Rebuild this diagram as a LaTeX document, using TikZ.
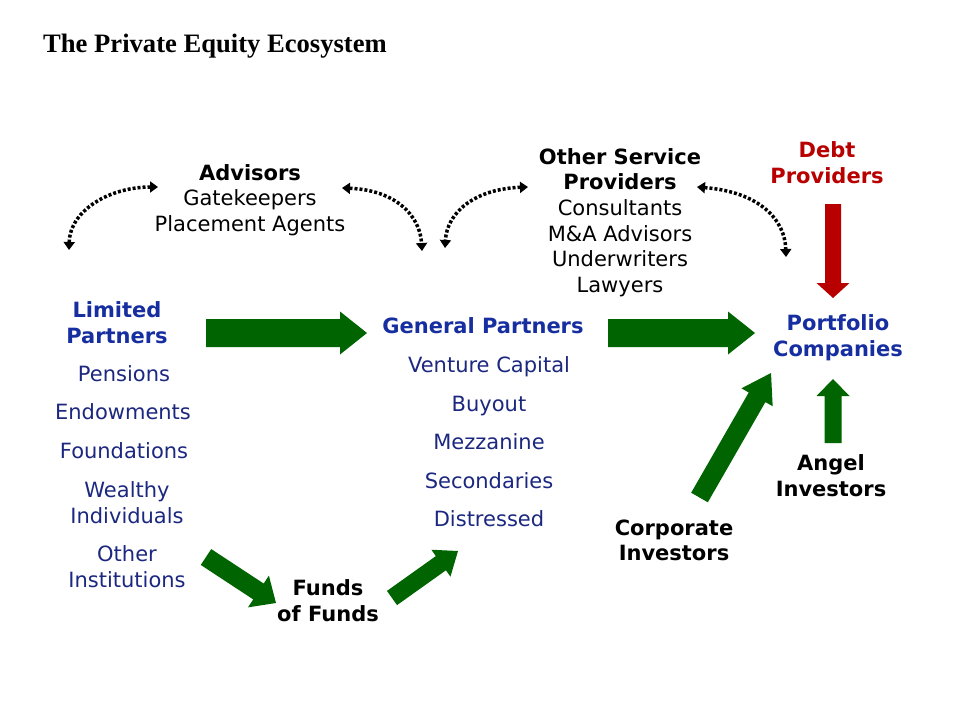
\documentclass[tikz,border=0pt]{standalone}
\usepackage{fontspec}
\setmainfont{DejaVu Sans}
\newfontfamily\titlefont{Liberation Serif}
\usetikzlibrary{calc,arrows.meta}
\definecolor{pegreen}{RGB}{0,100,0}
\definecolor{peblue}{RGB}{22,46,160}
\definecolor{petext}{RGB}{28,40,128}
\definecolor{pered}{RGB}{185,0,0}
\newcommand\blockarrow[6]{%
  \coordinate (bahead) at ($(#2)!#5!(#1)$);
  \fill[#6] ($(#1)!#3!90:(#2)$) -- ($(bahead)!#3!90:(#2)$) -- ($(bahead)!#4!90:(#2)$) -- (#2)
    -- ($(bahead)!#4!-90:(#2)$) -- ($(bahead)!#3!-90:(#2)$) -- ($(#1)!#3!-90:(#2)$) -- cycle;}
\begin{document}
\begin{tikzpicture}[x=1pt,y=-1pt,
  multi/.style={inner sep=0pt, align=center, font=\fontsize{21}{25.7}\selectfont},
  multib/.style={multi, font=\fontsize{21}{25.7}\selectfont\bfseries},
  single/.style={inner sep=0pt, text height=16pt, text depth=1pt, font=\fontsize{21}{25.7}\selectfont},
  singleb/.style={single, font=\fontsize{21}{25.7}\selectfont\bfseries},
  dotarrow/.style={line width=3.5pt, dash pattern=on 3pt off 2pt,
    {Triangle[length=8pt,width=11pt]}-{Triangle[length=8pt,width=11pt]}}]
\useasboundingbox (0,0) rectangle (960,720);
\fill[white] (0,0) rectangle (960,720);

\node[anchor=west, inner sep=0pt, font=\titlefont\bfseries\fontsize{26.6}{30}\selectfont] (title) at (43,46) {The Private Equity Ecosystem};

% service providers
\node[multi] (adv) at (250,200) {{\bfseries Advisors}\\Gatekeepers\\Placement Agents};
\node[multi] (osp) at (620,222.5) {{\bfseries Other Service}\\{\bfseries Providers}\\Consultants\\M\&A Advisors\\Underwriters\\Lawyers};
\node[multib, text=pered] (debt) at (827,162.4) {Debt\\Providers};

% limited partners
\node[multib, text=peblue] (lp) at (117,322.4) {Limited\\Partners};
\node[single, text=petext] (pens) at (124,374) {Pensions};
\node[single, text=petext] (endow) at (123,412) {Endowments};
\node[single, text=petext] (found) at (124,451) {Foundations};
\node[multi, text=petext] (wealthy) at (127,502.4) {Wealthy\\Individuals};
\node[multi, text=petext] (otherinst) at (127,566.4) {Other\\Institutions};

% general partners
\node[singleb, text=peblue] (gp) at (483,326) {General Partners};
\node[single, text=petext] (vc) at (489,365) {Venture Capital};
\node[single, text=petext] (buy) at (489,404) {Buyout};
\node[single, text=petext] (mezz) at (489,442) {Mezzanine};
\node[single, text=petext] (sec) at (489,481) {Secondaries};
\node[single, text=petext] (dist) at (489,519) {Distressed};

% others
\node[multib, text=peblue] (pc) at (838,337.9) {Portfolio\\Companies};
\node[multib] (angel) at (831,475.4) {Angel\\Investors};
\node[multib] (corp) at (674,540.4) {Corporate\\Investors};
\node[multib] (fof) at (328,600.4) {Funds\\of Funds};

% block arrow end points
\coordinate (lpA) at (206,333);   \coordinate (gpA) at (367,333);
\coordinate (gpB) at (608,333);   \coordinate (pcA) at (755,333);
\coordinate (debtA) at (833,204); \coordinate (pcB) at (833,298);
\coordinate (angelA) at (833,443);\coordinate (pcC) at (833,379);
\coordinate (corpA) at (699.5,497.5); \coordinate (pcD) at (771,373);
\coordinate (lpB) at (206,557);   \coordinate (fofA) at (276,603);
\coordinate (fofB) at (392,598);  \coordinate (gpC) at (458,551);

\blockarrow{lpA}{gpA}{14pt}{21.5pt}{27pt}{pegreen}
\blockarrow{gpB}{pcA}{14pt}{21.5pt}{27pt}{pegreen}
\blockarrow{debtA}{pcB}{8pt}{16.5pt}{15pt}{pered}
\blockarrow{angelA}{pcC}{8.5pt}{16.5pt}{17pt}{pegreen}
\blockarrow{corpA}{pcD}{9.6pt}{18pt}{28pt}{pegreen}
\blockarrow{lpB}{fofA}{9.5pt}{19pt}{21pt}{pegreen}
\blockarrow{fofB}{gpC}{8.7pt}{16.5pt}{21pt}{pegreen}

% dotted double arrows
\coordinate (d1a) at (158,187); \coordinate (d1b) at (69,250);
\coordinate (d2a) at (342,188); \coordinate (d2b) at (422,251);
\coordinate (d3a) at (528,187); \coordinate (d3b) at (445,248);
\coordinate (d4a) at (697,187); \coordinate (d4b) at (786,257);
\draw[dotarrow] (d1a) .. controls (110,187) and (70,210) .. (d1b);
\draw[dotarrow] (d2a) .. controls (395,190) and (420,215) .. (d2b);
\draw[dotarrow] (d3a) .. controls (475,189) and (447,212) .. (d3b);
\draw[dotarrow] (d4a) .. controls (760,192) and (785,220) .. (d4b);
\end{tikzpicture}
\end{document}
